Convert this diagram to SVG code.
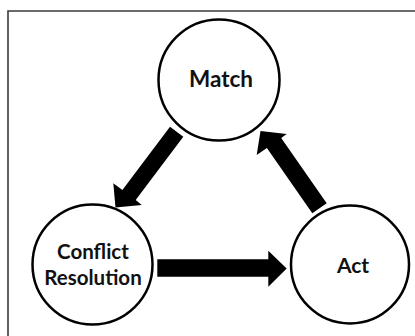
<svg xmlns="http://www.w3.org/2000/svg" width="415" height="336" viewBox="0 0 415 336">
  <style>
    .node { fill: #ffffff; stroke: #000000; stroke-width: 2.5; }
    .label { font-family: Lato, "Open Sans", "Liberation Sans", sans-serif; font-weight: bold; fill: #111111; text-anchor: middle; }
    .arrow { fill: #000000; }
  </style>
  <rect width="415" height="336" fill="#ffffff"/>
  <!-- outer frame, open to the right and bottom -->
  <path d="M8,337 V11 H416" fill="none" stroke="#3a3a3a" stroke-width="1.6"/>

  <g id="connectors">
    <!-- Match to Conflict Resolution -->
    <polygon class="arrow" points="170,126.7 183.3,136.7 135.7,200.1 141.7,205 115.5,207.5 113.3,183.3 122.4,190.1"/>
    <!-- Conflict Resolution to Act -->
    <polygon class="arrow" points="157.3,259.3 268.3,259.3 268.3,250.7 286.7,268.5 268.3,286.7 268.3,276.7 157.3,276.7"/>
    <!-- Act to Match -->
    <polygon class="arrow" points="312.3,213.3 266.9,147.9 256.7,155 260.5,131 286.7,134 281.2,137.9 326.7,203.3"/>
  </g>

  <g id="match">
    <circle class="node" cx="219" cy="80" r="60.5"/>
    <text class="label" x="221" y="87" font-size="22.5">Match</text>
  </g>
  <g id="conflict-resolution">
    <circle class="node" cx="92.5" cy="264.5" r="60"/>
    <text class="label" x="93" y="259" font-size="20.5">Conflict</text>
    <text class="label" x="93" y="285" font-size="20.5">Resolution</text>
  </g>
  <g id="act">
    <circle class="node" cx="350" cy="264.5" r="59"/>
    <text class="label" x="353" y="273" font-size="21">Act</text>
  </g>
</svg>
